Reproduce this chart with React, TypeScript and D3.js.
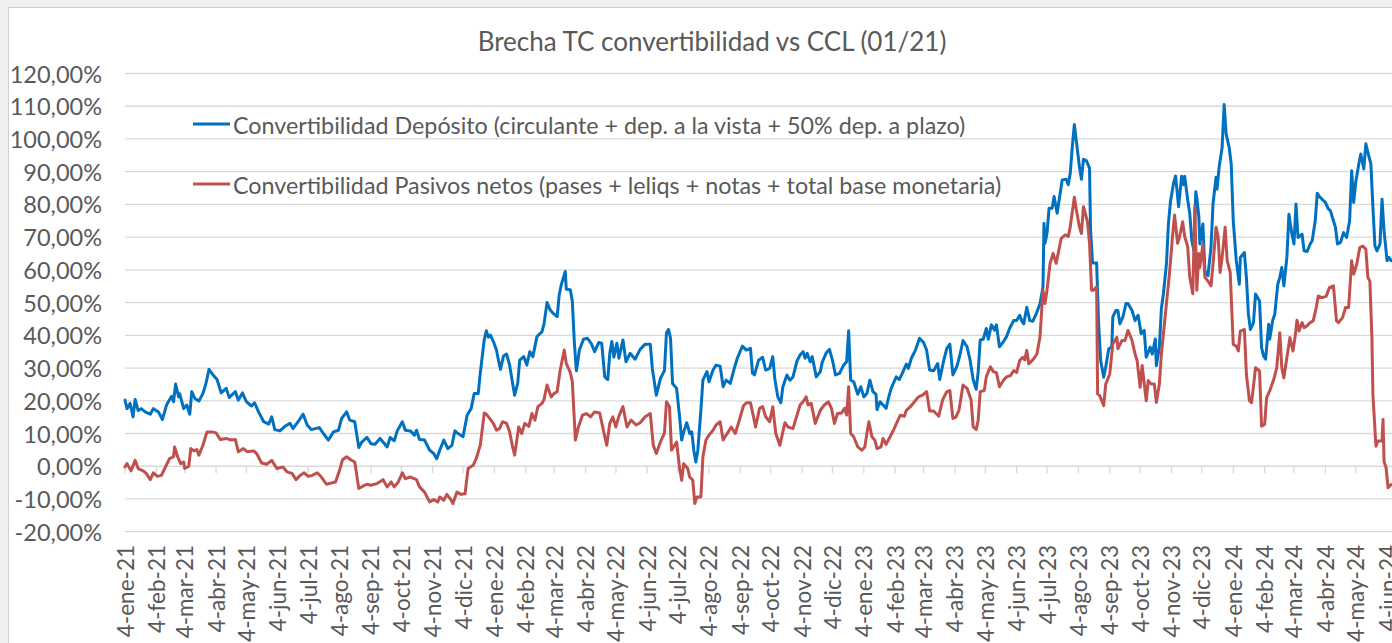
import React from "react";
import * as d3 from "d3";

// Day offsets are counted from 4-ene-21 (2021-01-04)
const START = new Date(2021, 0, 4);
const LAST_DAY = 1252;

const chartTitle = "Brecha TC convertibilidad vs CCL (01/21)";
const seriesNames = [
  "Convertibilidad Depósito (circulante + dep. a la vista + 50% dep. a plazo)",
  "Convertibilidad Pasivos netos (pases + leliqs + notas + total base monetaria)",
];
const seriesColors = ["#0070C0", "#C0504D"];

const tickLabels = [
  "4-ene-21","4-feb-21","4-mar-21","4-abr-21","4-may-21","4-jun-21","4-jul-21","4-ago-21","4-sep-21","4-oct-21","4-nov-21","4-dic-21",
  "4-ene-22","4-feb-22","4-mar-22","4-abr-22","4-may-22","4-jun-22","4-jul-22","4-ago-22","4-sep-22","4-oct-22","4-nov-22","4-dic-22",
  "4-ene-23","4-feb-23","4-mar-23","4-abr-23","4-may-23","4-jun-23","4-jul-23","4-ago-23","4-sep-23","4-oct-23","4-nov-23","4-dic-23",
  "4-ene-24","4-feb-24","4-mar-24","4-abr-24","4-may-24","4-jun-24",
];
const monthAbbr = ["ene","feb","mar","abr","may","jun","jul","ago","sep","oct","nov","dic"];
const yTicks = [-20, -10, 0, 10, 20, 30, 40, 50, 60, 70, 80, 90, 100, 110, 120];

// Convertibilidad Depósito
const blueDays = [
  0,2,5,8,10,13,16,20,25,28,33,37,41,46,48,50,53,54,58,61,64,66,69,73,77,80,83,87,91,95,100,103,109,112,116,120,125,128,132,137,
  142,145,148,153,158,163,166,171,176,180,184,192,196,201,206,211,214,219,222,227,231,234,239,243,247,252,255,259,262,266,269,274,277,282,286,288,291,296,301,305,
  308,311,315,319,323,326,329,334,338,342,
  345,349,351,355,357,359,361,364,367,369,371,374,377,380,383,385,388,390,394,397,400,403,407,412,414,417,420,423,427,429,431,435,436,440,442,444,446,449,453,457,
  461,464,468,471,474,477,479,481,483,486,488,492,495,499,504,509,514,519,521,525,529,533,535,537,539,541,545,548,550,552,555,558,560,562,564,566,569,571,575,577,
  581,584,588,591,594,598,602,605,610,614,
  618,620,622,626,630,633,637,640,642,645,648,650,654,657,660,664,667,670,672,674,677,679,683,687,689,693,696,699,702,706,710,713,715,717,720,724,727,730,733,736,
  739,742,743,746,749,752,754,757,762,765,768,772,774,777,781,785,789,792,795,799,803,805,809,812,815,818,822,825,828,832,835,838,841,843,845,848,851,853,856,859,
  861,864,868,871,874,
  878,881,884,886,888,891,894,897,901,904,907,908,909,911,913,916,918,921,924,926,930,932,934,936,938,940,943,945,947,950,953,954,956,960,962,964,967,969,972,975,
  976,979,981,983,986,989,991,995,998,1001,1004,1007,1009,1013,1015,1018,1019,1022,1024,1026,1029,1031,1033,1036,1038,1041,1044,1046,1047,1050,1052,1054,1056,1058,1059,1061,
  1062,1065,1067,1070,1073,1075,1078,1079,1081,1084,1086,1088,1091,1093,1095,1098,1101,1102,1106,1108,1110,1112,1115,1117,1120,1121,1123,1125,1127,1130,1131,1134,1136,1139,1141,1143,1145,1148,1150,1153,
  1155,1157,1159,1163,1165,1168,1171,1173,1176,1178,1181,1186,1189,1191,1193,1196,1198,1201,1204,1207,1210,1212,1214,1216,1219,1221,1224,1226,1228,1231,1233,1235,1237,1240,1242,1244,1247,1249,1251,
];
const blueValues = [
  20.2,17.6,19.2,15.1,20.4,17,17.6,16.6,15.9,17.6,16.6,14.3,18.7,21.4,19.7,25.1,21.2,22.2,17.6,18.7,15.9,22.8,20.7,19.9,22.2,25.3,29.6,27.9,26.5,22.4,23.8,21,22.8,20.2,22.4,19.7,18.4,19.4,16.6,13.6,
  12.9,15.1,11.2,10.8,12.2,13.1,11.5,13.6,15.9,12.6,11.2,11.8,10,8,10.5,11,14.6,16.6,14.1,13.6,5.7,7.4,8.8,6.9,6.7,8.5,7.4,5.9,8.8,7.8,10.8,13.6,11,10.8,9.5,11,8.2,8,4.9,3.9,
  2.3,4.9,8,5.4,6.4,10.8,10,9,15.6,17.6,
  22.2,22.2,28.4,38.8,41.4,39.4,40.1,38.1,35.5,32.4,29.6,33.7,34.3,30.9,25.3,21.7,25.3,32.4,33.5,30.9,35,33.5,39.6,41.1,43.5,50,47.8,46.7,45.7,52.3,55.4,59.5,54.1,53.9,50.3,37.6,29.2,35.5,38.8,39.1,
  37.3,35,37.8,37.6,27.3,26.5,34.5,38.1,33.3,37.6,33,38.6,31.9,34.5,32.7,35.7,37.3,37.3,29.9,21.7,26.8,29.2,40.8,41.8,39.1,25.3,23.8,15.1,8,10.5,13.3,10,10.5,4.9,1.3,4.9,17.1,26.3,28.9,25.8,
  29.4,30.9,30.6,24.3,26.3,25.3,29.9,33,36.7,35.5,
  36,28.4,27.9,32.4,33.3,29.4,29.9,33.5,26.8,21.2,19.4,24.3,27.9,26.3,27.3,32.2,34,35,33,34.5,31.9,33.5,27.3,28.9,31.9,34.7,35.7,32.4,27.9,28.4,30.9,31.9,41.4,26.3,25.8,22,24.3,21.2,22.2,26.3,
  22.8,22,17.3,19.7,18.7,17.7,20.4,23.8,27.3,26.5,28.4,31.2,29.9,33,35.5,39.1,37.8,35.5,29.4,29.2,31.4,26.5,32.4,36,37.3,27.9,30.6,34,38.4,36.5,32.4,26.5,23.5,28.9,38.6,38.8,42.1,38.8,43.2,41.6,
  43.2,36.5,38.1,39.6,42.1,
  44.5,44.5,46.1,44.5,43.5,48.6,44.5,44.3,47.1,49.6,54.7,74.2,68.1,71.2,78.8,78.8,82.4,77.3,83.4,87.5,87.7,86,89.6,97.7,104.4,99.3,91.6,87.7,93.8,93.3,91.1,72.2,62.1,62.1,43.5,32.3,27.2,30.3,35.9,36.4,
  45.6,47.6,47.6,43.5,45.6,49.7,49.7,47.6,44.5,46.1,40.5,41.5,33.3,36.4,34.3,38.9,30.7,36.4,48.2,52.7,61.9,74.2,80.9,86.5,88.7,79.3,88.6,86,88.6,81.4,77.3,69.1,66,83.9,81.9,76.3,
  67.9,74,59.7,58.2,66.8,80.1,88.3,84.7,91.3,97.4,110.5,101.5,97.4,92.3,75,62.8,55.6,63.8,65.3,57.7,46.4,41.8,43.9,52.6,51,50.5,36.2,33.7,32.7,43.4,38.8,44.6,46.4,55.6,57.7,60.7,55.1,63.8,77,70.9,
  67.9,80.1,69.9,70.9,65.8,65.6,67.9,68.9,75,83.4,82.1,80.6,78.6,78.1,76,73,67.9,68.4,71.4,69.9,75,90.3,80.6,86.7,92.3,95.4,90.8,98.5,95.9,92.3,79.1,67.3,65.8,67.9,81.6,71.9,62.8,63.8,62.8,
];

// Convertibilidad Pasivos netos
const redDays = [
  0,2,6,10,13,18,21,25,28,32,36,40,44,48,49,52,55,58,59,63,65,68,71,73,77,81,86,90,94,100,105,109,112,117,121,127,130,135,140,145,
  150,156,160,165,169,173,177,181,185,190,194,199,204,208,212,215,219,223,227,231,235,239,243,249,255,259,263,266,270,274,277,282,288,291,296,301,305,309,311,315,
  318,322,324,328,332,336,339,344,347,
  351,355,357,361,364,367,370,373,377,380,383,385,389,392,395,399,402,405,408,412,414,417,421,424,427,430,434,436,440,442,445,448,452,456,460,464,469,473,476,479,
  482,485,488,492,496,500,505,509,514,519,522,525,529,533,535,538,540,542,545,548,550,552,556,558,561,563,565,569,571,574,577,581,584,588,591,595,599,603,607,611,614,
  618,621,623,627,630,633,637,640,643,647,650,652,655,660,664,667,670,673,675,678,682,687,691,695,698,701,704,708,711,713,715,717,720,724,728,731,733,735,738,741,
  743,747,749,752,756,760,763,766,770,772,776,780,784,788,792,795,799,804,808,812,815,818,821,824,828,832,836,838,841,843,845,849,851,855,858,861,864,868,871,
  875,878,881,884,887,889,891,893,897,901,904,907,909,911,914,917,920,922,925,929,932,934,938,940,943,945,947,951,953,955,957,960,961,963,967,969,973,976,980,981,
  985,988,991,995,998,1000,1003,1005,1009,1011,1014,1017,1019,1022,1024,1027,1029,1032,1035,1037,1040,1042,1045,1047,1050,1052,1055,1057,1059,1061,
  1062,1065,1067,1070,1073,1075,1078,1080,1082,1084,1087,1089,1092,1095,1098,1100,1102,1106,1108,1111,1113,1115,1117,1121,1123,1126,1128,1131,1135,1138,1141,1143,1145,1148,1151,1154,1156,1158,1160,1163,
  1165,1168,1171,1174,1177,1179,1183,1187,1190,1194,1197,1199,1203,1206,1209,1212,1214,1217,1220,1223,1226,1228,1230,1232,1233,1236,1238,1242,1243,1244,1246,1248,1251,
];
const redValues = [
  -0.2,0.8,-1.4,1.8,-0.7,-1.4,-2.2,-4.1,-2,-3.1,-2.8,-0.2,2.3,2.9,5.9,2.9,0.8,1.3,-0.7,0,5.4,4.7,5.1,3.4,6.4,10.5,10.5,10.2,8.2,8.5,8,8.2,4.4,5.4,4.4,4.7,3.9,1,0.6,1.8,
  -0.7,-0.2,-1.7,-2.2,-4.1,-2.8,-2,-3.1,-2.8,-2,-3.3,-5.5,-5.1,-4.8,-1.2,2,2.9,2,1.3,-6.8,-6.1,-5.5,-5.8,-5.3,-4.1,-6.3,-4.8,-6.3,-4.8,-2,-3.8,-3.3,-4.1,-6.3,-7.9,-10.9,-10.2,-10.9,-9.4,-10.4,
  -8.6,-10.2,-11.4,-7.9,-8.6,-8.4,-0.7,0.3,2.3,
  6.4,16.3,15.9,14.3,13.1,11,11.5,13.6,13.1,10.5,5.9,3.4,12,10,13.1,12.2,16.1,14.1,18.2,19.2,20.4,24.8,21.2,22.2,22.8,29.4,35.5,31.4,28.6,25.8,8,12,15.6,16.1,15.1,16.6,16.3,10.5,6.4,13.1,
  15.1,12,15.3,18.2,12,14.1,12.6,13.3,15.1,16.1,6.4,3.9,7.4,10.2,19.7,18.2,4.9,5.9,7.4,-0.7,-4.3,0.8,-0.7,-3.3,-4.3,-11.4,-9.4,-9.4,2.9,8,9.5,11,12.6,13.6,8,10,12,10,14.1,18.4,19.4,
  19.4,15.1,12,17.7,18.2,15.1,13.6,18.2,10,6.4,10.5,13.3,12,11.5,15.6,18.7,19.7,21.2,18.7,19.2,13.1,17.1,18.7,19.7,17.7,13.1,16.1,16.3,17.7,15.6,24.3,10,9,5.9,4.9,5.9,10,13.6,9,7.9,
  5.4,5.9,8.5,6.7,9,11.5,13.6,15.6,15.3,17.1,18.2,19.7,21.2,21.7,22.8,16.9,16.9,15.3,20.4,22.8,23.1,14.6,15.1,17.1,24.8,23.8,20.2,12,11.2,14.1,22.8,23.1,27.3,30.4,28.9,28.6,24.3,26.3,27.3,
  27.7,29.2,28.7,32.3,33.3,32.5,35.4,31.3,32.5,34.3,39.4,53.8,49.7,53.8,62,65,62,65,69.6,70.7,70.2,73.2,82.2,78.3,73.2,71.1,79.3,74.7,68.1,53.8,53.8,54.8,22.1,21.6,18.5,25.1,28.2,37.4,39.4,35.9,
  38.4,38.4,41.5,38.4,34.3,32.3,24.1,30.8,20,26.2,25.1,25.1,19.5,25.1,34.3,43.5,49.7,58.9,70.2,76.8,68.1,70.2,74.7,70.2,67.1,57.9,52.7,79.3,53.8,65,
  60.7,67.9,57.7,56.6,55.1,61.7,73,70.4,59.2,63.8,73,62.8,59.2,37.2,36.7,35.2,41.3,41.8,28.1,20,19.4,24.5,30.1,29.1,12.2,12.8,21,23,26.5,30.1,40.8,30.1,27,33.2,39.3,35.2,39.3,44.6,41.3,43.9,
  42.3,42.9,43.9,44.4,48.5,52,51.5,52,54.6,55.1,44.4,43.9,45.4,48.5,48.5,62.8,58.7,61.7,66.8,67.3,66.3,57.7,56.6,39.3,21.9,6.1,7.7,7.7,14.3,1.5,-0.5,-6.6,-5.6,
];

const W = 1392;
const H = 643;
const FONT = "Lato, 'Open Sans', sans-serif";
const TEXT = "#595959";
const GRID = "#d9d9d9";

function parseTick(label: string): Date {
  const [d, m, y] = label.split("-");
  return new Date(2000 + +y, monthAbbr.indexOf(m), +d);
}

export default function App() {
  const x = d3
    .scaleTime()
    .domain([START, d3.timeDay.offset(START, LAST_DAY)])
    .range([125, 125 + LAST_DAY * 1.0121]);
  const y = d3.scaleLinear().domain([-20, 120]).range([531.7, 73.5]);

  const mk = (days: number[], vals: number[]) =>
    d3
      .line<number>()
      .x((_, i) => x(d3.timeDay.offset(START, days[i])))
      .y((v) => y(v))(vals) || "";

  const paths = [mk(blueDays, blueValues), mk(redDays, redValues)];
  const fmt = (v: number) => `${v},00%`;
  const x0 = x.range()[0];
  const x1 = x.range()[1];

  return (
    <svg
      width={W}
      height={H}
      style={{ position: "absolute", left: 0, top: 0, display: "block", background: "#efefef" }}
    >
      <rect x={8.5} y={7.5} width={W + 20} height={H + 20} fill="#fff" stroke="#d0d0d0" />
      <text x={712} y={41} textAnchor="middle" dominantBaseline="central" fontFamily={FONT} fontSize={26} fill={TEXT}>
        {chartTitle}
      </text>
      {yTicks.map((t) => (
        <g key={t}>
          <line x1={x0} x2={x1 + 5} y1={y(t)} y2={y(t)} stroke={GRID} strokeWidth={1.3} />
          <text x={102} y={y(t)} textAnchor="end" dominantBaseline="central" fontFamily={FONT} fontSize={23.5} fill={TEXT}>
            {fmt(t)}
          </text>
        </g>
      ))}
      {tickLabels.map((lab) => {
        const tx = x(parseTick(lab));
        return (
          <g key={lab}>
            <line x1={tx} x2={tx} y1={y(0)} y2={y(0) + 7} stroke={GRID} strokeWidth={1.3} />
            <text
              transform={`translate(${tx},545) rotate(-90)`}
              textAnchor="end"
              dominantBaseline="central"
              fontFamily={FONT}
              fontSize={22.5}
              fill={TEXT}
            >
              {lab}
            </text>
          </g>
        );
      })}
      {paths.map((p, i) => (
        <path key={i} d={p} fill="none" stroke={seriesColors[i]} strokeWidth={3} strokeLinejoin="round" strokeLinecap="round" />
      ))}
      {seriesNames.map((name, i) => {
        const ly = i === 0 ? 124 : 184;
        return (
          <g key={name}>
            <line x1={193} x2={230} y1={ly} y2={ly} stroke={seriesColors[i]} strokeWidth={3} />
            <text x={233} y={ly + 1} dominantBaseline="central" fontFamily={FONT} fontSize={23.3} fill={TEXT}>
              {name}
            </text>
          </g>
        );
      })}
    </svg>
  );
}
